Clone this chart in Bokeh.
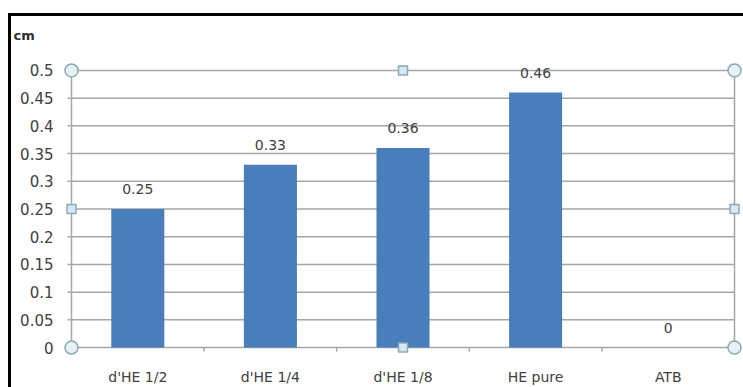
from bokeh.plotting import figure
from bokeh.models import Range1d, FixedTicker, LinearAxis, LabelSet, ColumnDataSource, InlineStyleSheet
from bokeh.core.properties import value
from bokeh.embed import file_html
from bokeh.resources import INLINE

# ---- data ----
categories = ["d'HE 1/2", "d'HE 1/4", "d'HE 1/8", "HE pure", "ATB"]
values = [0.25, 0.33, 0.36, 0.46, 0]
value_labels = ["0.25", "0.33", "0.36", "0.46", "0"]
y_ticks = [0, 0.05, 0.1, 0.15, 0.2, 0.25, 0.3, 0.35, 0.4, 0.45, 0.5]
y_tick_labels = ["0", "0.05", "0.1", "0.15", "0.2", "0.25", "0.3", "0.35", "0.4", "0.45", "0.5"]
unit_label = "cm"
y_max = 0.5

# category slots: bar centred in each unit-wide slot
n = len(categories)
centers = [i + 0.5 for i in range(n)]
bounds = list(range(1, n))

# ---- layout (pixels) ----
W, H = 743, 387
PL, PR, PT, PB = 71, 734, 70, 349      # plot area
PAD = 8                                 # room for selection handles
FL, FR, FT, FB = PL - PAD, W - 1, PT - PAD, PB + PAD
ppx = (PR - PL) / n
ppy = (PB - PT) / y_max
FONT = "DejaVu Sans"
TXT = "#404040"
GRID = "#a6a6a6"
BAR = "#4A7EBB"

p = figure(width=W, height=H, title=unit_label,
           x_range=Range1d(-PAD / ppx, n + (FR - PR) / ppx),
           y_range=Range1d(-PAD / ppy, y_max + PAD / ppy),
           output_backend="svg", toolbar_location=None,
           x_axis_location=None, y_axis_location=None,
           min_border_left=FL, min_border_right=W - FR,
           min_border_top=FT, min_border_bottom=H - FB)
p.background_fill_color = "white"
p.border_fill_color = "white"
p.outline_line_color = None
p.xgrid.visible = False
p.ygrid.visible = False

p.title.align = "left"
p.title.offset = 13 - FL
p.title.standoff = 39
p.title.text_font = FONT
p.title.text_font_size = "13px"
p.title.text_font_style = "bold"
p.title.text_color = "#303030"

# y axis (labels only; gridlines/ticks drawn below)
yax = LinearAxis(ticker=FixedTicker(ticks=y_ticks),
                 major_label_overrides=dict(zip(y_ticks, y_tick_labels)))
yax.axis_line_color = None
yax.major_tick_line_color = None
yax.minor_tick_line_color = None
yax.major_tick_out = 0
yax.major_tick_in = 0
yax.major_label_standoff = 10
yax.major_label_text_font = FONT
yax.major_label_text_font_size = "15px"
yax.major_label_text_color = TXT
p.add_layout(yax, "left")

# x axis: category names at slot centres
xax = LinearAxis(ticker=FixedTicker(ticks=centers),
                 major_label_overrides=dict(zip(centers, categories)))
xax.axis_line_color = None
xax.major_tick_line_color = None
xax.minor_tick_line_color = None
xax.major_tick_out = 0
xax.major_tick_in = 0
xax.major_label_standoff = 13
xax.major_label_text_font = FONT
xax.major_label_text_font_size = "14px"
xax.major_label_text_color = TXT
p.add_layout(xax, "below")

# gridlines with small outward ticks, plot-area borders, category boundary ticks
tick_x = -4 / ppx
p.segment(x0=[tick_x] * len(y_ticks), x1=[n] * len(y_ticks), y0=y_ticks, y1=y_ticks,
          line_color=GRID, line_width=1.5)
p.segment(x0=[0, n], x1=[0, n], y0=[0, 0], y1=[y_max, y_max],
          line_color=GRID, line_width=1.5)
p.segment(x0=bounds, x1=bounds, y0=[0] * len(bounds), y1=[-4 / ppy] * len(bounds),
          line_color=GRID, line_width=1.5)

src = ColumnDataSource(dict(x=centers, cat=categories, val=values, lab=value_labels))
p.vbar(x="x", top="val", width=0.4, source=src, fill_color=BAR, line_color=None)

p.add_layout(LabelSet(x="x", y="val", text="lab", source=src, y_offset=15,
                      text_align="center", text_baseline="alphabetic",
                      text_font=value(FONT), text_font_size="14px", text_color=TXT))

# selection handles of the plot area
hx = [0, n / 2, n]
hy = [0, y_max / 2, y_max]
cx = [hx[0], hx[2], hx[0], hx[2]]
cy = [hy[0], hy[0], hy[2], hy[2]]
sx = [hx[1], hx[1], hx[0], hx[2]]
sy = [hy[0], hy[2], hy[1], hy[1]]
p.scatter(cx, cy, marker="circle", size=13, fill_color="#e6f1f8",
          line_color="#8aaab4", line_width=1.5)
p.scatter(sx, sy, marker="square", size=9, fill_color="#d6e7f5",
          line_color="#8aaab4", line_width=1.5)

# black border of the screenshot (top and left)
p.stylesheets = [InlineStyleSheet(css=(
    ":host::after { content: ''; position: absolute; left: 8px; top: 13px; "
    "right: 0; bottom: 0; border-top: 3px solid black; border-left: 3px solid black; "
    "pointer-events: none; z-index: 100; }"))]

open("out.html", "w").write(file_html(p, INLINE))
